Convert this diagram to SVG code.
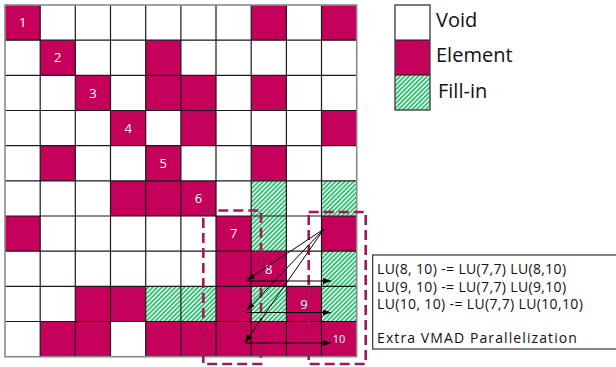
<svg xmlns="http://www.w3.org/2000/svg" width="616" height="367" viewBox="0 0 616 367">
<defs>
<pattern id="hatch" width="3.2" height="3.2" patternUnits="userSpaceOnUse" patternTransform="rotate(45)">
<rect width="3.2" height="3.2" fill="#e8f8ee"/>
<rect width="1.7" height="3.2" fill="#2fbf72"/>
</pattern>
<marker id="ah" viewBox="0 0 8 6" refX="8" refY="3" markerWidth="8" markerHeight="6" markerUnits="userSpaceOnUse" orient="auto">
<path d="M0,0 L8,3 L0,6 z" fill="#000"/>
</marker>
<style>
.e{fill:#c4005a}
.f{fill:url(#hatch)}
.g{stroke:#1a1a1a;stroke-width:1.2}
.n{font-family:"Open Sans","Noto Sans",sans-serif;font-size:13px;fill:#fff;text-anchor:middle}
.lg{font-family:"Open Sans","Noto Sans",sans-serif;font-size:20px;fill:#111}
.bx{font-family:"Open Sans","Noto Sans",sans-serif;font-size:14px;letter-spacing:0.35px;fill:#111}
.d{fill:none;stroke:#a01a5a;stroke-width:2.6;stroke-dasharray:10,5}
.c{stroke:#000;stroke-width:1;fill:none;marker-end:url(#ah)}
</style>
</defs>
<rect width="616" height="367" fill="#fff"/>
<g id="matrix">
<rect x="5" y="5" width="351.7" height="351.7" fill="#fff"/>
<rect class="e" x="5" y="5" width="35.2" height="35.2"/>
<rect class="e" x="251.2" y="5" width="35.2" height="35.2"/>
<rect class="e" x="321.5" y="5" width="35.2" height="35.2"/>
<rect class="e" x="40.2" y="40.2" width="35.2" height="35.2"/>
<rect class="e" x="145.7" y="40.2" width="35.2" height="35.2"/>
<rect class="e" x="75.3" y="75.3" width="35.2" height="35.2"/>
<rect class="e" x="145.7" y="75.3" width="35.2" height="35.2"/>
<rect class="e" x="180.9" y="75.3" width="35.2" height="35.2"/>
<rect class="e" x="251.2" y="75.3" width="35.2" height="35.2"/>
<rect class="e" x="110.5" y="110.5" width="35.2" height="35.2"/>
<rect class="e" x="180.9" y="110.5" width="35.2" height="35.2"/>
<rect class="e" x="321.5" y="110.5" width="35.2" height="35.2"/>
<rect class="e" x="40.2" y="145.7" width="35.2" height="35.2"/>
<rect class="e" x="145.7" y="145.7" width="35.2" height="35.2"/>
<rect class="e" x="251.2" y="145.7" width="35.2" height="35.2"/>
<rect class="e" x="110.5" y="180.9" width="35.2" height="35.2"/>
<rect class="e" x="145.7" y="180.9" width="35.2" height="35.2"/>
<rect class="e" x="180.9" y="180.9" width="35.2" height="35.2"/>
<rect class="f" x="251.2" y="180.9" width="35.2" height="35.2"/>
<rect class="f" x="321.5" y="180.9" width="35.2" height="35.2"/>
<rect class="e" x="5" y="216" width="35.2" height="35.2"/>
<rect class="e" x="216" y="216" width="35.2" height="35.2"/>
<rect class="f" x="251.2" y="216" width="35.2" height="35.2"/>
<rect class="e" x="321.5" y="216" width="35.2" height="35.2"/>
<rect class="e" x="216" y="251.2" width="35.2" height="35.2"/>
<rect class="e" x="251.2" y="251.2" width="35.2" height="35.2"/>
<rect class="f" x="321.5" y="251.2" width="35.2" height="35.2"/>
<rect class="e" x="75.3" y="286.4" width="35.2" height="35.2"/>
<rect class="e" x="110.5" y="286.4" width="35.2" height="35.2"/>
<rect class="f" x="145.7" y="286.4" width="35.2" height="35.2"/>
<rect class="f" x="180.9" y="286.4" width="35.2" height="35.2"/>
<rect class="e" x="216" y="286.4" width="35.2" height="35.2"/>
<rect class="f" x="251.2" y="286.4" width="35.2" height="35.2"/>
<rect class="e" x="286.4" y="286.4" width="35.2" height="35.2"/>
<rect class="f" x="321.5" y="286.4" width="35.2" height="35.2"/>
<rect class="e" x="40.2" y="321.5" width="35.2" height="35.2"/>
<rect class="e" x="75.3" y="321.5" width="35.2" height="35.2"/>
<rect class="e" x="145.7" y="321.5" width="35.2" height="35.2"/>
<rect class="e" x="180.9" y="321.5" width="35.2" height="35.2"/>
<rect class="e" x="216" y="321.5" width="35.2" height="35.2"/>
<rect class="e" x="251.2" y="321.5" width="35.2" height="35.2"/>
<rect class="e" x="286.4" y="321.5" width="35.2" height="35.2"/>
<rect class="e" x="321.5" y="321.5" width="35.2" height="35.2"/>
<path class="g" d="M40.2,5V356.7M75.3,5V356.7M110.5,5V356.7M145.7,5V356.7M180.9,5V356.7M216,5V356.7M251.2,5V356.7M286.4,5V356.7M321.5,5V356.7M5,40.2H356.7M5,75.3H356.7M5,110.5H356.7M5,145.7H356.7M5,180.9H356.7M5,216H356.7M5,251.2H356.7M5,286.4H356.7M5,321.5H356.7"/>
<rect x="5" y="5" width="351.7" height="351.7" fill="none" stroke="#8a8a8a" stroke-width="1.6"/>
<text class="n" x="22.6" y="27.3">1</text>
<text class="n" x="57.8" y="62.4">2</text>
<text class="n" x="92.9" y="97.6">3</text>
<text class="n" x="128.1" y="132.8">4</text>
<text class="n" x="163.3" y="168">5</text>
<text class="n" x="198.5" y="203.2">6</text>
<text class="n" x="233.6" y="238.3">7</text>
<text class="n" x="268.8" y="273.5">8</text>
<text class="n" x="304" y="308.7">9</text>
<text class="n" x="339.1" y="343.4" style="font-size:11px">10</text>
</g>
<g id="blocks">
<rect class="d" x="203.3" y="210.5" width="57.7" height="153.5"/>
<rect class="d" x="308.7" y="212" width="57" height="152"/>
</g>
<g id="connectors">
<line class="c" x1="324" y1="229" x2="247" y2="280"/>
<line class="c" x1="324" y1="229" x2="247" y2="310"/>
<line class="c" x1="324" y1="229" x2="245" y2="342.5"/>
<line class="c" x1="247" y1="281" x2="331" y2="281"/>
<line class="c" x1="247" y1="312.5" x2="331" y2="312.5"/>
<line class="c" x1="245" y1="343" x2="331" y2="343"/>
</g>
<g id="legend">
<rect x="395" y="5" width="35" height="35" fill="#fff"/>
<rect class="e" x="395" y="40" width="35" height="35"/>
<rect class="f" x="395" y="75" width="35" height="35"/>
<path d="M395,40H430M395,75H430" stroke="#1a1a1a" stroke-width="1"/>
<rect x="395" y="5" width="35" height="105" fill="none" stroke="#444" stroke-width="1.4"/>
<text class="lg" x="436" y="26.7">Void</text>
<text class="lg" x="436" y="62">Element</text>
<text class="lg" x="438" y="97.5">Fill-in</text>
</g>
<g id="note">
<rect x="372.7" y="255" width="250" height="94" fill="#fff" stroke="#333" stroke-width="1.2"/>
<text class="bx" x="377" y="274">LU(8, 10) -= LU(7,7) LU(8,10)</text>
<text class="bx" x="377" y="291.5">LU(9, 10) -= LU(7,7) LU(9,10)</text>
<text class="bx" x="377" y="309">LU(10, 10) -= LU(7,7) LU(10,10)</text>
<text class="bx" x="377" y="343" style="letter-spacing:1.1px">Extra VMAD Parallelization</text>
</g>
</svg>
